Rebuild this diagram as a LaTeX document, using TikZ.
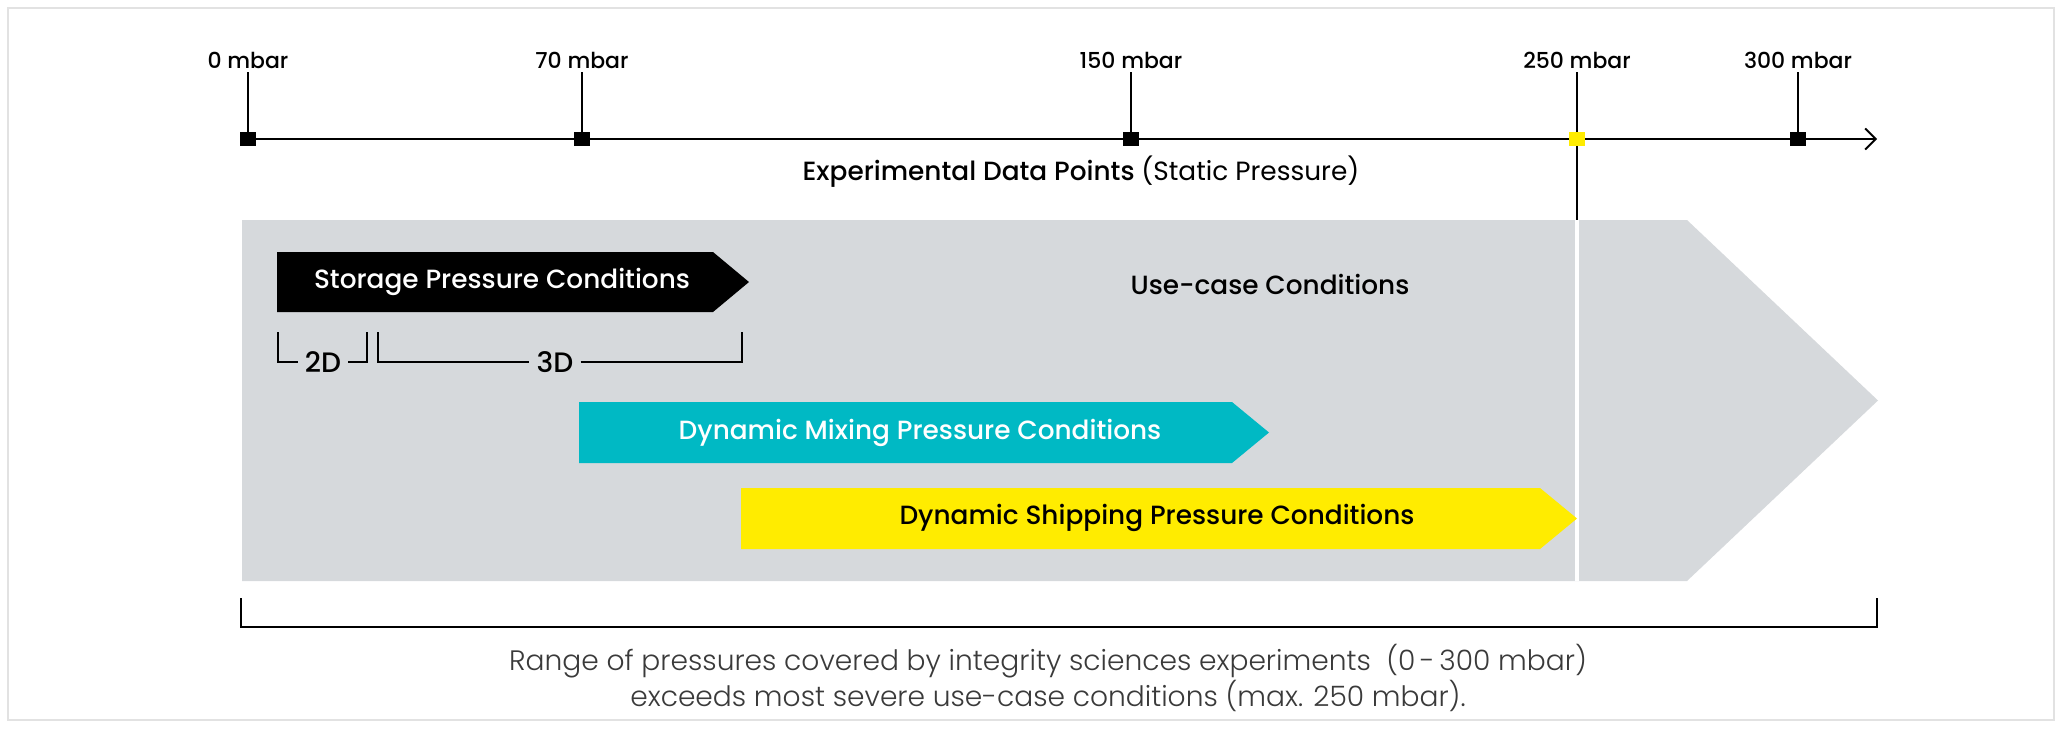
\documentclass[tikz,border=0pt]{standalone}
\usepackage{fontspec}
\setmainfont{Poppins}[BoldFont={Poppins Medium}]
\newfontfamily\legere{Poppins Light}
\usetikzlibrary{arrows.meta}
\definecolor{grisZone}{HTML}{D6D9DC}
\definecolor{bleuMelange}{HTML}{00B9C4}
\definecolor{jauneTransport}{HTML}{FFEC00}
\definecolor{grisCadre}{HTML}{E2E2E2}
\definecolor{grisTexte}{HTML}{3A3A3A}
\begin{document}
\begin{tikzpicture}[x=0.02cm,y=-0.02cm,font=\fontsize{15}{18}\selectfont\bfseries]
	\tikzstyle{axe}=[line width=1.1pt,-{Straight Barb[length=6pt,width=12pt,line width=1.1pt]}]
	\tikzstyle{graduation}=[line width=0.6pt]
	\tikzstyle{repere}=[fill=black,minimum width=9pt,minimum height=8pt,inner sep=0pt]
	\tikzstyle{etiquette}=[inner sep=2pt,font=\fontsize{12.5}{15}\selectfont\bfseries]
	\tikzstyle{crochet}=[line width=0.7pt]
	\tikzstyle{titre}=[inner sep=0pt]
	\tikzstyle{dim}=[inner xsep=4pt,inner ysep=0pt,font=\fontsize{16}{18}\selectfont\bfseries]
	\def\Axe{139}\def\HautEtiq{60}
	\def\HautZone{220}\def\BasZone{581}
	\useasboundingbox (0,0) rectangle (2062,728);
	\draw[grisCadre,line width=1.2pt] (8,8) rectangle (2054,720);
	% grande fleche grise
	\fill[grisZone] (242,\HautZone) -- (1687,\HautZone) -- (1878,{(\HautZone+\BasZone)/2}) -- (1687,\BasZone) -- (242,\BasZone) -- cycle;
	\node[titre] (usage) at (1270,284) {Use-case Conditions};
	% axe des pressions
	\coordinate (O) at (248,\Axe) ; \coordinate (fin) at (1877,\Axe) ;
	\draw[axe] (O) -- (fin) ;
	\coordinate (haut250) at (1577,\HautZone) ; \coordinate (bas250) at (1577,\BasZone) ;
	\draw[white,line width=2pt] (haut250) -- (bas250) ;
	\foreach \x/\nom/\val in {248/A/0,582/B/70,1131/C/150,1798/E/300}{
		\node[etiquette] (L\nom) at (\x,\HautEtiq) {\val\ mbar};
		\draw[graduation] (L\nom.south) -- (\x,\Axe) ;
		\node[repere] (P\nom) at (\x,\Axe) {};
	}
	\node[etiquette] (LD) at (1577,\HautEtiq) {250 mbar};
	\draw[graduation] (LD.south) -- (haut250) ;
	\node[repere,fill=jauneTransport] (PD) at (1577,\Axe) {};
	\node[titre] (points) at (1081,172) {Experimental Data Points \mdseries(Static Pressure)};
	% conditions de stockage
	\fill[black] (277,252) -- (713,252) -- (749,282) -- (713,312) -- (277,312) -- cycle;
	\node[titre,white] (stockage) at (502,282) {Storage Pressure Conditions};
	\node[dim] (deuxD) at (323,362) {2D};
	\node[dim] (troisD) at (555,362) {3D};
	\draw[crochet] (278,332) |- (deuxD.west) ; \draw[crochet] (deuxD.east) -| (367,332) ;
	\draw[crochet] (378,332) |- (troisD.west) ; \draw[crochet] (troisD.east) -| (742,332) ;
	% conditions dynamiques
	\fill[bleuMelange] (579,402) -- (1232,402) -- (1269,432.5) -- (1232,463) -- (579,463) -- cycle;
	\node[titre,white] (melange) at (920,433) {Dynamic Mixing Pressure Conditions};
	\fill[jauneTransport] (741,488) -- (1540,488) -- (1577,518.5) -- (1540,549) -- (741,549) -- cycle;
	\node[titre] (transport) at (1157,518) {Dynamic Shipping Pressure Conditions};
	% plage couverte
	\coordinate (g) at (241,598) ; \coordinate (d) at (1877,598) ;
	\draw[crochet] (g) -- ++(0,29) -| (d) ;
	\node[titre,grisTexte,align=center,font=\fontsize{16}{18.7}\legere] (plage) at (1048,678)
		{Range of pressures covered by integrity sciences experiments~~(0\,-\,300 mbar)\\exceeds most severe use-case conditions (max. 250 mbar).};
\end{tikzpicture}
\end{document}
